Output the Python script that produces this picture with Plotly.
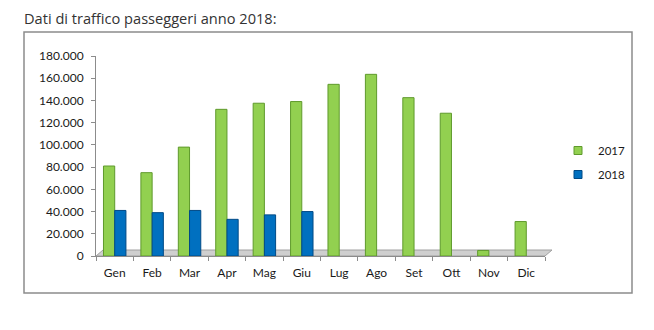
import plotly.graph_objects as go

# Monthly passenger traffic, 2017 vs 2018
mesi = ["Gen", "Feb", "Mar", "Apr", "Mag", "Giu", "Lug", "Ago", "Set", "Ott", "Nov", "Dic"]
passeggeri_2017 = [81000, 75000, 98000, 132000, 137500, 139000, 154500, 163500, 142500, 128500, 5000, 31000]
passeggeri_2018 = [41000, 39000, 41000, 33000, 37000, 40000, None, None, None, None, None, None]
y_ticks = list(range(0, 180001, 20000))

VERDE = "#92D050"
VERDE_BORDO = "#5F9A2C"
BLU = "#0070C0"
BLU_BORDO = "#004A86"
FONT = "Lato"

fig = go.Figure()
series = [("2017", passeggeri_2017, VERDE, VERDE_BORDO),
          ("2018", passeggeri_2018, BLU, BLU_BORDO)]
for nome, valori, colore, bordo in series:
    fig.add_trace(go.Bar(
        x=mesi, y=valori, name=nome, showlegend=False, legendgroup=nome,
        marker=dict(color=colore, line=dict(color=bordo, width=1)),
    ))
# small square legend keys
for nome, valori, colore, bordo in series:
    fig.add_trace(go.Scatter(
        x=[None], y=[None], mode="markers", name=nome, legendgroup=nome,
        marker=dict(symbol="square", size=8, color=colore, line=dict(color=bordo, width=1)),
    ))

# plot area in pixels: x 96..545, y 56..256
L, R, T, B = 96, 109, 56, 74
W, H = 654 - L - R, 330 - T - B


def px(x):
    return (x - L) / W


def py(y):
    return (330 - B - y) / H


shapes = [
    # frame around the chart
    dict(type="rect", xref="paper", yref="paper",
         x0=px(24), x1=px(632), y0=py(293), y1=py(32),
         line=dict(color="#8c8c8c", width=1.5), fillcolor="rgba(0,0,0,0)", layer="below"),
    # floor plate under the bars
    dict(type="path", xref="paper", yref="paper",
         path=f"M {px(96)},{py(256)} L {px(103)},{py(250)} L {px(552)},{py(250)} L {px(545)},{py(256)} Z",
         fillcolor="#cfcfcf", line=dict(color="#a0a0a0", width=1), layer="below"),
]

fig.update_layout(
    width=654, height=330,
    margin=dict(l=L, r=R, t=T, b=B, pad=0, autoexpand=False),
    paper_bgcolor="white", plot_bgcolor="white",
    separators=",.",
    barmode="group", bargap=0.4, bargroupgap=0.0,
    font=dict(family=FONT, size=12, color="#1a1a1a"),
    showlegend=True,
    legend=dict(x=px(558), y=py(136), xanchor="left", yanchor="top",
                font=dict(family=FONT, size=11.5, color="#1a1a1a"),
                traceorder="grouped", tracegroupgap=5, itemwidth=30,
                bgcolor="rgba(0,0,0,0)"),
    xaxis=dict(showline=True, linecolor="#8c8c8c", linewidth=1,
               ticks="outside", tickson="boundaries", ticklen=4, tickcolor="#8c8c8c",
               ticklabelstandoff=6,
               showgrid=False, tickfont=dict(size=12), fixedrange=True),
    yaxis=dict(range=[0, 180000], tickvals=y_ticks, tickformat=",d",
               showline=True, linecolor="#8c8c8c", linewidth=1,
               ticks="outside", ticklen=4, tickcolor="#8c8c8c",
               ticklabelstandoff=5,
               showgrid=False, zeroline=False, tickfont=dict(size=12)),
    shapes=shapes,
    annotations=[dict(
        text="Dati di traffico passeggeri anno 2018:",
        xref="paper", yref="paper", x=px(22), y=py(18),
        xanchor="left", yanchor="middle", showarrow=False,
        font=dict(family="Open Sans", size=14.6, color="#333333"),
    )],
)

fig.write_html("out.html")
